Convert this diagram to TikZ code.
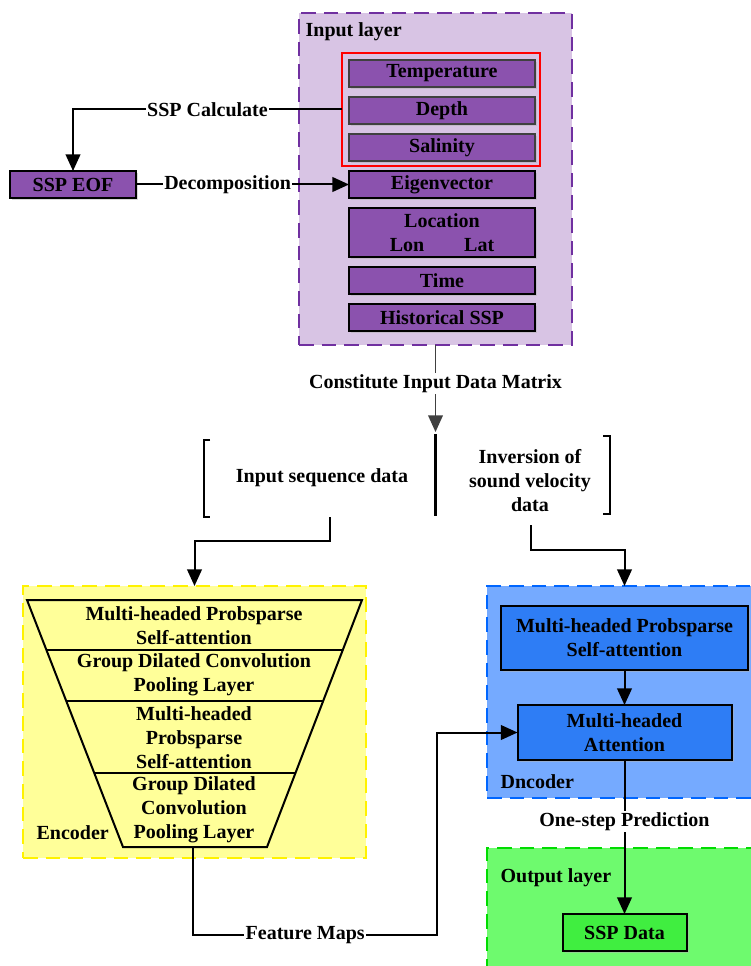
\documentclass[tikz,border=0pt]{standalone}
\usepackage{fontspec}
\setmainfont{Liberation Serif}
\usetikzlibrary{arrows.meta,calc,shadows}
\definecolor{lilac}{RGB}{216,196,228}
\definecolor{grape}{RGB}{139,82,174}
\definecolor{plum}{RGB}{112,48,160}
\definecolor{lemon}{RGB}{255,255,153}
\definecolor{sky}{RGB}{117,170,255}
\definecolor{azure}{RGB}{46,125,245}
\definecolor{royal}{RGB}{0,102,255}
\definecolor{mint}{RGB}{110,250,110}
\definecolor{sspgreen}{RGB}{64,238,64}
\definecolor{leaf}{RGB}{0,220,0}
\definecolor{darkline}{RGB}{64,64,64}
\newcommand\bigbf{\bfseries\fontsize{15}{18}\selectfont}
\tikzset{
>={Triangle[length=12.5pt,width=11pt]},
sz/.style 2 args={minimum width=#1*0.75pt,minimum height=#2*0.75pt},
layer box/.style={draw=#1,line width=1.5pt,dash pattern=on 11pt off 6pt,outer sep=0pt},
box node/.style={draw=black,line width=1.5pt,outer sep=0pt,align=center,
  drop shadow={shadow xshift=1.5pt,shadow yshift=-1.5pt,fill=black!30}},
purple node/.style={box node,fill=grape},
blue node/.style={box node,fill=azure},
green node/.style={box node,fill=sspgreen},
freccia/.style={->,line width=1.5pt},
funnel/.style={line width=1.5pt,line join=miter},
bracket/.style={line width=1.5pt}}

\begin{document}
\begin{tikzpicture}[x=0.75pt,y=-0.75pt,inner sep=1pt,font=\bigbf]
\useasboundingbox (0,0) rectangle (750,966);

% layers
\node[layer box=plum,fill=lilac,sz={273}{332}] (input) at (435.5,179) {};
\node[layer box=yellow,fill=lemon,sz={343}{272}] (enc) at (194.5,722) {};
\node[layer box=royal,fill=sky,sz={275}{212}] (dec) at (624.5,692) {};
\node[layer box=leaf,fill=mint,sz={275}{132}] (out) at (624.5,914) {};

\node[anchor=west] (inlab) at (304,32) {Input layer};
\node[anchor=west] (enclab) at (35,833) {Encoder};
\node[anchor=west] (declab) at (499,782) {Dncoder};
\node[anchor=west] (outlab) at (499,878) {Output layer};

% input layer
\node[purple node,draw=black!75,sz={186}{27}] (temp) at (442,73.5) {Temperature};
\node[purple node,draw=black!75,sz={186}{27}] (depth) at (442,110.5) {Depth};
\node[purple node,draw=black!75,sz={186}{27}] (sal) at (442,147.5) {Salinity};
\node[draw=red,line width=1.5pt,outer sep=0pt,sz={198}{113}] (calc) at (441,109.5) {};
\node[purple node,sz={186}{27}] (eig) at (442,184.5) {Eigenvector};
\node[purple node,sz={186}{49}] (loc) at (442,232.5) {Location\\Lon\hspace{2em}Lat};
\node[purple node,sz={186}{27}] (time) at (442,280.5) {Time};
\node[purple node,sz={186}{27}] (hist) at (442,317.5) {Historical SSP};
\node[purple node,sz={126}{27}] (eof) at (73,184.5) {SSP EOF};

\draw[freccia] (calc.west) -| node[pos=0.25,fill=white]{SSP Calculate} (eof.north);
\draw[freccia] (eof) -- node[pos=0.43,fill=white]{Decomposition} (eig);

% split
\coordinate (split) at (435.5,432);
\coordinate (bartop) at (435.5,434);
\coordinate (barbot) at (435.5,516);
\draw[freccia,draw=darkline,line width=1.2pt] (input) -- node[pos=0.44,fill=white]{Constitute Input Data Matrix} (split);
\draw[line width=2pt] (bartop) -- (barbot);
\draw[bracket] (210,440) -- (204,440) -- (204,517) -- (210,517);
\draw[bracket] (603,436) -- (610,436) -- (610,514) -- (603,514);

\node (seq) at (322,478) {Input sequence data};
\node[align=center] (inv) at (530,481) {Inversion of\\sound velocity\\data};

\coordinate (seqout) at (330,517);
\coordinate (invout) at (531,525);
\draw[freccia] (seqout) -- ++(0,24) -| (enc.north);
\draw[freccia] (invout) -- ++(0,25) -| (dec.north);

% encoder
\coordinate (tl) at (27,600);
\coordinate (tr) at (362,600);
\coordinate (br) at (267,847);
\coordinate (bl) at (123,847);
\draw[funnel,fill=lemon] (tl) -- (tr) -- (br) -- (bl) -- cycle;
\draw[funnel] ($(tl)!0.2024!(bl)$) -- ($(tr)!0.2024!(br)$);
\draw[funnel] ($(tl)!0.4089!(bl)$) -- ($(tr)!0.4089!(br)$);
\draw[funnel] ($(tl)!0.7004!(bl)$) -- ($(tr)!0.7004!(br)$);

\node[align=center] (mh1) at (194,626) {Multi-headed Probsparse\\Self-attention};
\node[align=center] (gd1) at (194,675) {Group Dilated Convolution\\Pooling Layer};
\node[align=center] (mh2) at (194,738) {Multi-headed\\Probsparse\\Self-attention};
\node[align=center] (gd2) at (194,810) {Group Dilated\\Convolution\\Pooling Layer};

% decoder
\node[blue node,sz={247}{64}] (mhpsa) at (624.5,638) {Multi-headed Probsparse\\Self-attention};
\node[blue node,sz={214}{55}] (mha) at (624.5,732.5) {Multi-headed\\Attention};
\node[green node,sz={124}{37}] (ssp) at (624.5,932.5) {SSP Data};

\draw[freccia] (mhpsa) -- (mha);
\draw[freccia] (mha) -- node[pos=0.4,fill=white]{One-step Prediction} (ssp);

\coordinate (funbot) at (193,847);
\coordinate (fmturn) at (437,935);
\draw[freccia] (funbot) |- node[pos=0.73,fill=white]{Feature Maps} (fmturn) |- (mha.west);

\end{tikzpicture}
\end{document}
